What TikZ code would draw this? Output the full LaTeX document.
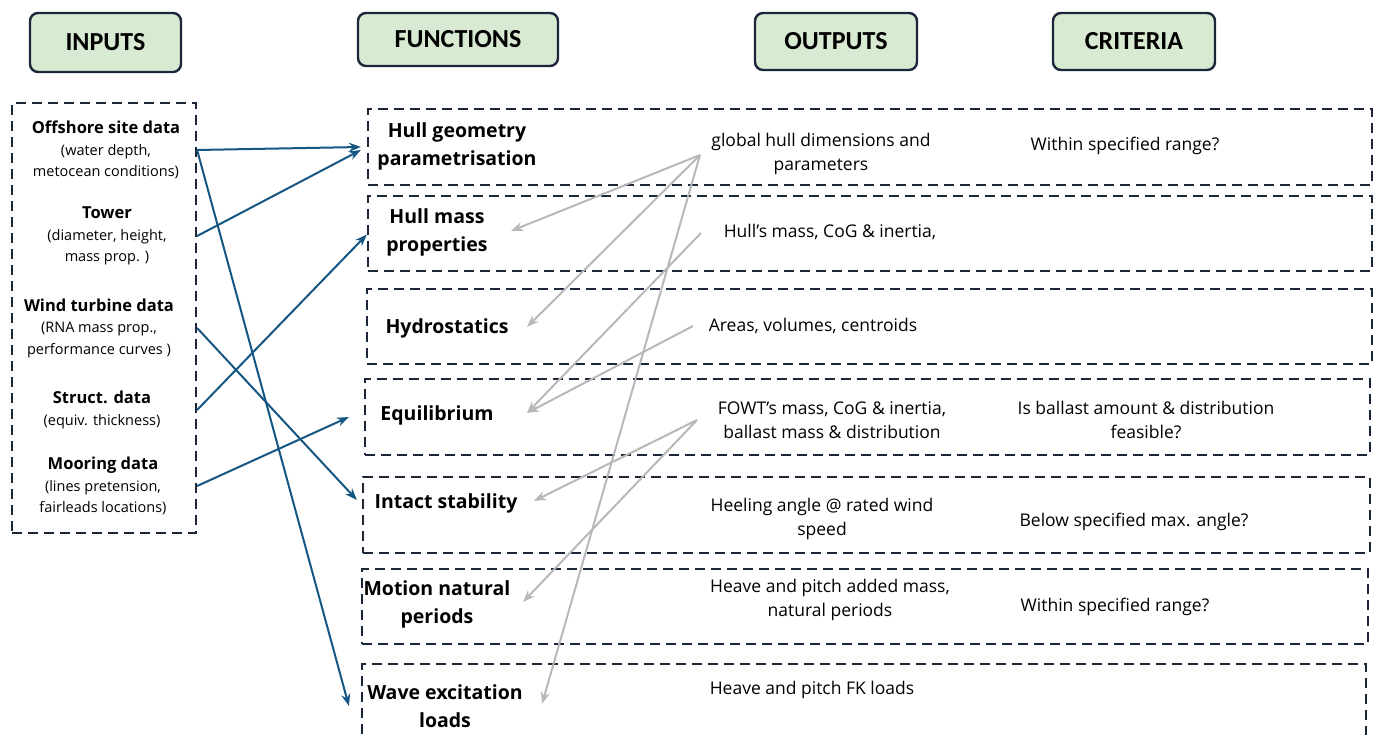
\documentclass[tikz,border=0pt]{standalone}
\usepackage{fontspec}
\setmainfont{Open Sans}
\newfontfamily\headfont{Carlito}
\usetikzlibrary{arrows.meta,calc}
\definecolor{boxline}{RGB}{27,38,56}
\definecolor{headfill}{RGB}{217,234,211}
\definecolor{inarrow}{RGB}{22,86,130}
\definecolor{outarrow}{RGB}{184,184,184}

\begin{document}
\begin{tikzpicture}[x=1pt, y=-1pt,
  header/.style = {shape=rectangle, rounded corners=8pt, draw=boxline,
    line width=2.4pt, fill=headfill, inner sep=0pt,
    font=\headfont\bfseries\fontsize{26}{30}\selectfont},
  dashbox/.style = {shape=rectangle, draw=boxline, line width=2.2pt,
    dash pattern=on 10pt off 6pt, inner sep=0pt},
  input/.style = {align=center, font=\fontsize{14.5}{21.5}\selectfont},
  func/.style = {align=center, font=\bfseries\fontsize{19.5}{28}\selectfont},
  output/.style = {align=center, font=\fontsize{17.5}{24}\selectfont},
  feed/.style = {draw=inarrow, line width=2pt, -{Stealth[length=12pt,width=9pt]}},
  pass/.style = {draw=outarrow, line width=2pt, -{Stealth[length=12pt,width=9pt]}}]

\clip (0,0) rectangle (1375,735);

\node[header, minimum width=151pt, minimum height=59pt] (hin) at (105.5,42.5) {INPUTS};
\node[header, minimum width=200pt, minimum height=53pt] (hfun) at (458,39.5) {FUNCTIONS};
\node[header, minimum width=162pt, minimum height=57pt] (hout) at (836,41.5) {OUTPUTS};
\node[header, minimum width=162pt, minimum height=57pt] (hcrit) at (1134,41.5) {CRITERIA};

\node[dashbox, minimum width=184pt, minimum height=430pt] (inbox) at (104,318) {};
\node[input] (i1) at (106,150) {{\bfseries\fontsize{16.5}{21.5}\selectfont Offshore site data}\\(water depth,\\metocean conditions)};
\node[input] (i2) at (107,236) {{\bfseries\fontsize{16.5}{21.5}\selectfont Tower}\\(diameter, height,\\mass prop. )};
\node[input] (i3) at (99,328) {{\bfseries\fontsize{16.5}{21.5}\selectfont Wind turbine data}\\(RNA mass prop.,\\performance curves )};
\node[input] (i4) at (102,410) {{\bfseries\fontsize{16.5}{21.5}\selectfont Struct. data}\\(equiv. thickness)};
\node[input] (i5) at (103,486) {{\bfseries\fontsize{16.5}{21.5}\selectfont Mooring data}\\(lines pretension,\\fairleads locations)};

\node[dashbox, minimum width=1004pt, minimum height=76pt] (r1) at (870,147) {};
\node[dashbox, minimum width=1004pt, minimum height=75pt] (r2) at (870,233.5) {};
\node[dashbox, minimum width=1005pt, minimum height=75pt] (r3) at (869.5,326.5) {};
\node[dashbox, minimum width=1005pt, minimum height=76pt] (r4) at (867.5,417) {};
\node[dashbox, minimum width=1007pt, minimum height=76pt] (r5) at (866.5,515) {};
\node[dashbox, minimum width=1006pt, minimum height=75pt] (r6) at (865,606.5) {};
\node[dashbox, minimum width=1004pt, minimum height=76pt] (r7) at (864,702) {};

\node[func] (f1) at (457,146) {Hull geometry\\parametrisation};
\node[func] (f2) at (437,232) {Hull mass\\properties};
\node[func] (f3) at (447,328) {Hydrostatics};
\node[func] (f4) at (437,415) {Equilibrium};
\node[func] (f5) at (446,503) {Intact stability};
\node[func] (f6) at (437,604) {Motion natural\\periods};
\node[func] (f7) at (445,706) {Wave excitation\\loads};

\node[output] (o1) at (821,154) {global hull dimensions and\\parameters};
\node[output] (o2) at (830,232) {Hull’s mass, CoG \& inertia,};
\node[output] (o3) at (813,326) {Areas, volumes, centroids};
\node[output] (o4) at (832,420) {FOWT’s mass, CoG \& inertia,\\ballast mass \& distribution};
\node[output] (o5) at (822,519) {Heeling angle @ rated wind\\speed};
\node[output] (o6) at (830,600) {Heave and pitch added mass,\\natural periods};
\node[output] (o7) at (812,690) {Heave and pitch FK loads};

\node[output] (c1) at (1125,146) {Within specified range?};
\node[output] (c4) at (1146,420) {Is ballast amount \& distribution\\feasible?};
\node[output] (c5) at (1134,522) {Below specified max. angle?};
\node[output] (c6) at (1115,607) {Within specified range?};

\draw[feed] (inbox.east |- i1) -- ($(r1.west)+(-6,0)$);
\draw[feed] (inbox.east |- i2) -- ($(r1.west)+(-6,3)$);
\draw[feed] (inbox.east |- i4) -- ($(r2.west)+(0,1)$);
\draw[feed] (inbox.east |- i3) -- ($(r5.west |- f5)+(-5,-3)$);
\draw[feed] (inbox.east |- i5) -- ($(r4.west)+(-15,0)$);
\draw[feed] (inbox.east |- i1) -- ($(r7.west |- f7)+(-12,0)$);

\draw[pass] ($(o1)+(-121,1)$) -- ($(f2)+(74,-1)$);
\draw[pass] ($(o1)+(-121,1)$) -- ($(f3)+(80,-1)$);
\draw[pass] ($(o1)+(-121,1)$) -- ($(f7)+(97,-2)$);
\draw[pass] ($(o2)+(-129,1)$) -- ($(f4)+(90,-2)$);
\draw[pass] ($(o3)+(-120,0)$) -- ($(f4)+(90,-2)$);
\draw[pass] ($(o4)+(-135,0)$) -- ($(f5)+(88,-2)$);
\draw[pass] ($(o4)+(-135,0)$) -- ($(f6)+(86,-2)$);
\end{tikzpicture}
\end{document}
